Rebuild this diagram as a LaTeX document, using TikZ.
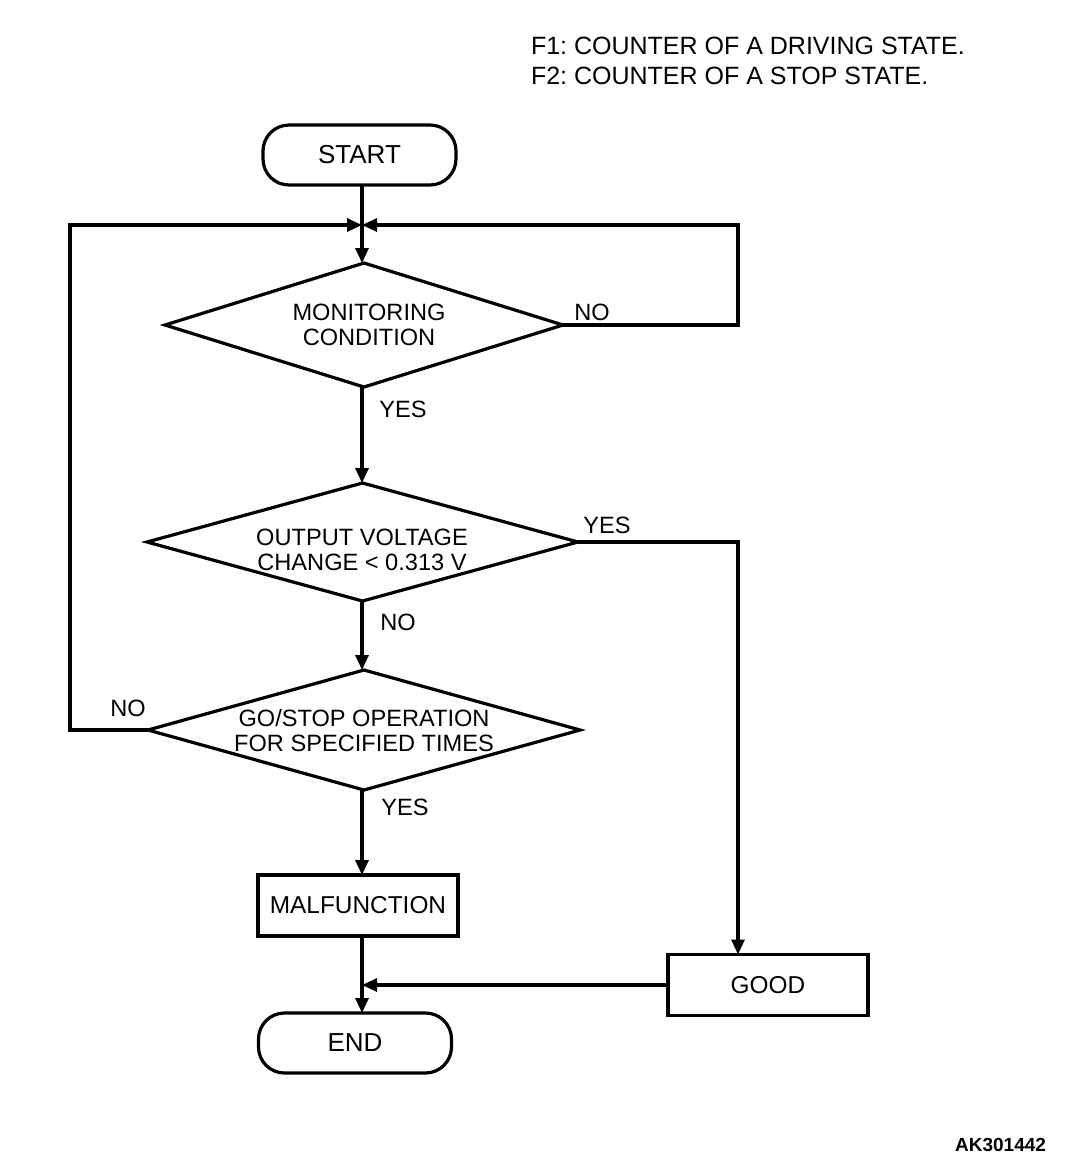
\documentclass[tikz,border=0pt]{standalone}
\usepackage{fontspec}
\setmainfont{Liberation Sans}
\usetikzlibrary{shapes.geometric,arrows.meta}
\frenchspacing
\begin{document}
\begin{tikzpicture}[x=0.5pt,y=-0.5pt,
  every node/.style={font=\fontsize{11.8}{12.5}\selectfont, inner sep=0pt, outer sep=0pt},
  conn/.style={line width=1.6pt, -{Triangle[length=7.5pt,width=6.5pt]}},
  term/.style={draw, line width=1.6pt, rounded corners=13pt, minimum width=96.5pt, minimum height=30pt, font=\fontsize{13}{14}\selectfont},
  proc/.style={draw, line width=1.6pt, minimum width=100pt, minimum height=30.5pt, font=\fontsize{12.2}{14}\selectfont},
  dec/.style={draw, diamond, line width=1.6pt},
  dtext/.style={align=center},
  hdr/.style={font=\fontsize{12.5}{14}\selectfont, anchor=base west},
]
\useasboundingbox (0,0) rectangle (1072,1174);

% header
\node[hdr] (h1) at (531,54) {F1: COUNTER OF A DRIVING STATE.};
\node[hdr] (h2) at (531,84) {F2: COUNTER OF A STOP STATE.};

% terminals and boxes
\node[term] (start) at (359.5,155) {START};
\node[proc] (mal) at (358,905.5) {MALFUNCTION};
\node[proc] (good) at (768,985) {GOOD};
\node[term] (end) at (355,1043) {END};

% decisions
\node[dec, minimum width=199pt, minimum height=62pt] (d1) at (364,325) {};
\node[dec, minimum width=215.5pt, minimum height=59pt] (d2) at (362.5,542) {};
\node[dec, minimum width=216pt, minimum height=60pt] (d3) at (364,730) {};
\node[dtext] (d1t) at (369,324.5) {MONITORING\\CONDITION};
\node[dtext] (d2t) at (362,549.5) {OUTPUT VOLTAGE\\CHANGE < 0.313 V};
\node[dtext] (d3t) at (364,730.5) {GO/STOP OPERATION\\FOR SPECIFIED TIMES};

% helper coordinates
\coordinate (m) at (362,225);
\coordinate (lft) at (70,225);
\coordinate (rgt) at (738,225);

% connectors
\draw[conn] (start.south -| m) -- (m |- d1.north);
\draw[conn] (d1.east) -| (rgt) -- (m);
\draw[conn] (d3.west) -| (lft) -- (m);
\draw[conn] (m |- d1.south) -- (m |- d2.north);
\draw[conn] (d2.east) -- (d2.east -| rgt) -- (rgt |- good.north);
\draw[conn] (m |- d2.south) -- (m |- d3.north);
\draw[conn] (m |- d3.south) -- (m |- mal.north);
\draw[conn] (m |- mal.south) -- (m |- end.north);
\draw[conn] (good.west) -- (good.west -| m);

% labels
\node (no1) at (592,312) {NO};
\node (yes1) at (403,409) {YES};
\node (yes2) at (607,525) {YES};
\node (no2) at (398,622) {NO};
\node (no3) at (128,708) {NO};
\node (yes3) at (405,807) {YES};

% code
\node[font=\bfseries\fontsize{9.5}{11}\selectfont, anchor=base east] (code) at (1046,1151) {AK301442};
\end{tikzpicture}
\end{document}
